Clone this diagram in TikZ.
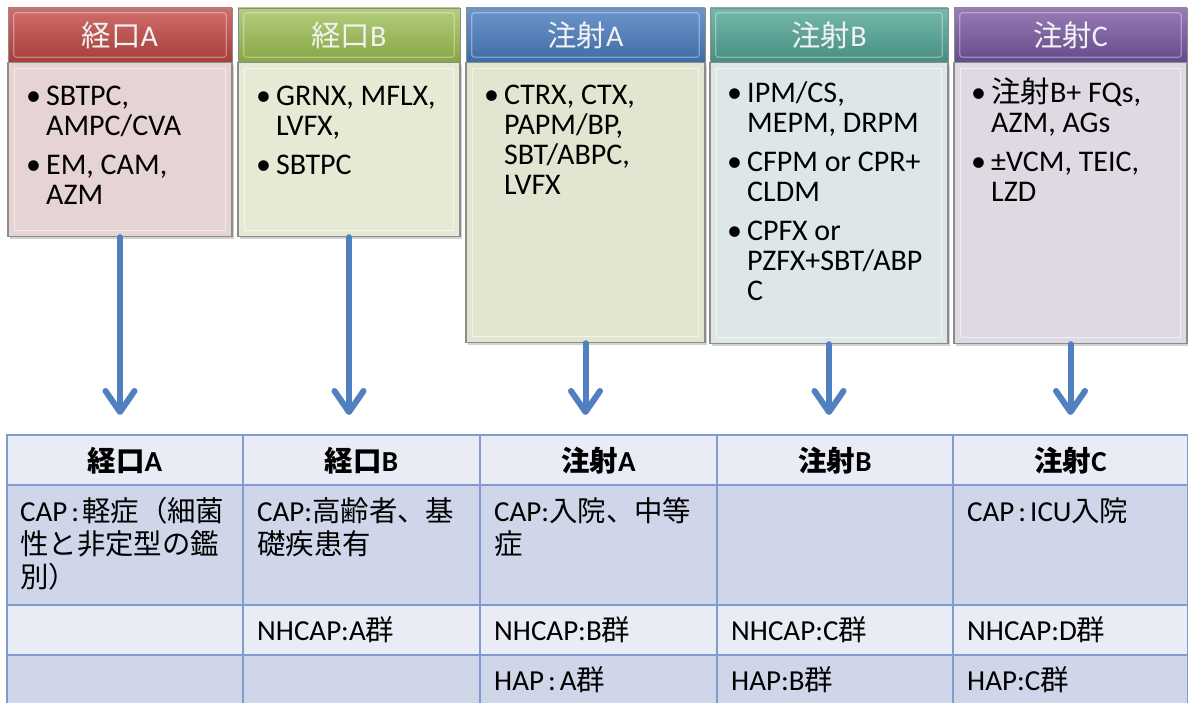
\documentclass[tikz,border=0pt]{standalone}
\usepackage{fontspec}
\setmainfont{Carlito}
\newfontfamily\jpf{Noto Sans CJK JP}[Scale=0.98]
\newcommand\jp[1]{{\jpf #1}}
\usetikzlibrary{arrows.meta,shadows}
\definecolor{redtop}{HTML}{D06E6B}
\definecolor{redbot}{HTML}{A63D3A}
\definecolor{greentop}{HTML}{B4CE7C}
\definecolor{greenbot}{HTML}{87A545}
\definecolor{bluetop}{HTML}{6C96CB}
\definecolor{bluebot}{HTML}{3F6BA6}
\definecolor{tealtop}{HTML}{74B9AC}
\definecolor{tealbot}{HTML}{478D81}
\definecolor{purptop}{HTML}{977CB7}
\definecolor{purpbot}{HTML}{654A8A}
\definecolor{bodyA}{HTML}{E6D3D3}
\definecolor{bodyB}{HTML}{E4EAD4}
\definecolor{bodyC}{HTML}{E1E6D0}
\definecolor{bodyD}{HTML}{DDE7E7}
\definecolor{bodyE}{HTML}{DFD9E3}
\definecolor{thfill}{HTML}{E9EBF5}
\definecolor{tddark}{HTML}{CFD6EA}
\definecolor{gridblue}{HTML}{7F9BCF}
\definecolor{arrowblue}{HTML}{5080C0}
\newcommand\itm[1]{\par\hangindent=20pt\hangafter=1\noindent\makebox[20pt][l]{•}#1}
\newcommand\itmgap{\par\vskip 9pt}
\begin{document}
\begin{tikzpicture}[x=1pt,y=-1pt,
  hdr/.style={rectangle, minimum width=#1, minimum height=54pt, inner sep=0,
    text=white!95!black, font=\fontsize{30}{30}\selectfont, draw=black!45, line width=0.6pt},
  bodybox/.style={rectangle, inner sep=0, draw=black!45, line width=1.2pt,
    drop shadow={shadow xshift=2pt, shadow yshift=-2pt, opacity=0.35}},
  bevel/.style={draw=white, opacity=0.6, line width=1pt},
  hbevel/.style={draw=white, opacity=0.35, line width=1.2pt, rounded corners=3pt},
  btext/.style={anchor=base west, inner sep=0, font=\fontsize{30}{30}\selectfont},
  arr/.style={draw=arrowblue, line width=6pt, line cap=round,
    -{Straight Barb[round, length=21pt, width=29pt]}},
  th/.style={anchor=base, inner sep=0, font=\fontsize{29}{30}\selectfont\bfseries},
  td/.style={anchor=base west, inner sep=0, font=\fontsize{29}{33}\selectfont},
  grid/.style={draw=gridblue, line width=1.2pt}
]
\useasboundingbox (0,0) rectangle (1188,703);
\fill[white] (0,0) rectangle (1188,703);

% ---------- bodies ----------
\node[bodybox, fill=bodyA, minimum width=224pt, minimum height=174pt, anchor=north] (bA) at (120,62) {};
\node[bodybox, fill=bodyB, minimum width=222pt, minimum height=174pt, anchor=north] (bB) at (349,62) {};
\node[bodybox, fill=bodyC, minimum width=239pt, minimum height=280pt, anchor=north] (bC) at (585.5,62) {};
\node[bodybox, fill=bodyD, minimum width=238pt, minimum height=281pt, anchor=north] (bD) at (829,62) {};
\node[bodybox, fill=bodyE, minimum width=233pt, minimum height=281pt, anchor=north] (bE) at (1070.5,62) {};
\foreach \b in {bA,bB,bC,bD,bE}{
  \draw[bevel] ([shift={(7pt,-7pt)}]\b.north west) rectangle ([shift={(-7pt,7pt)}]\b.south east);
}

% ---------- headers ----------
\node[hdr=224pt, top color=redtop, bottom color=redbot] (hA) at (120,35) {\jp{経口}A};
\node[hdr=222pt, top color=greentop, bottom color=greenbot] (hB) at (349,35) {\jp{経口}B};
\node[hdr=239pt, top color=bluetop, bottom color=bluebot] (hC) at (585.5,35) {\jp{注射}A};
\node[hdr=238pt, top color=tealtop, bottom color=tealbot] (hD) at (829,35) {\jp{注射}B};
\node[hdr=233pt, top color=purptop, bottom color=purpbot] (hE) at (1070.5,35) {\jp{注射}C};
\foreach \h in {hA,hB,hC,hD,hE}{
  \draw[hbevel] ([shift={(6pt,-5pt)}]\h.north west) rectangle ([shift={(-6pt,5pt)}]\h.south east);
}

% ---------- body texts ----------
\node[btext] (xA) at (26,106) {\parbox[t]{200pt}{\itm{SBTPC,\\AMPC/CVA}\itmgap\itm{EM, CAM,\\AZM}}};
\node[btext] (xB) at (256,106) {\parbox[t]{200pt}{\itm{GRNX, MFLX,\\LVFX,}\itmgap\itm{SBTPC}}};
\node[btext] (xC) at (484,105) {\parbox[t]{215pt}{\itm{CTRX, CTX,\\PAPM/BP,\\SBT/ABPC,\\LVFX}}};
\node[btext] (xD) at (727,103) {\parbox[t]{215pt}{\itm{IPM/CS,\\MEPM, DRPM}\itmgap\itm{CFPM or CPR+\\CLDM}\itmgap\itm{CPFX or\\PZFX+SBT/ABP\\C}}};
\node[btext] (xE) at (971,103) {\parbox[t]{210pt}{\itm{\jp{注射}B+ FQs,\\AZM, AGs}\itmgap\itm{±VCM, TEIC,\\LZD}}};

% ---------- arrows ----------
\coordinate (tipY) at (0,415);
\foreach \b in {bA,bB,bC,bD,bE}{
  \draw[arr] (\b.south) -- (\b.south |- tipY);
}

% ---------- table ----------
\fill[thfill] (7,435) rectangle (1188,485);
\fill[tddark] (7,485) rectangle (1188,605);
\fill[thfill] (7,605) rectangle (1188,655);
\fill[tddark] (7,655) rectangle (1188,710);
\draw[grid] (7,435) rectangle (1188,710);
\foreach \yy in {485,605,655}{ \draw[grid] (7,\yy) -- (1188,\yy); }
\foreach \xx in {243,480,717,953}{ \draw[grid] (\xx,435) -- (\xx,710); }

\node[th] (cA) at (125,471) {\jp{経口}A};
\node[th] (cB) at (361.5,471) {\jp{経口}B};
\node[th] (cC) at (598.5,471) {\jp{注射}A};
\node[th] (cD) at (835,471) {\jp{注射}B};
\node[th] (cE) at (1070.5,471) {\jp{注射}C};

\node[td] (r2A) at (20,521) {\parbox[t]{225pt}{CAP\hspace{4pt}:\hspace{3pt}\jp{軽症（細菌}\\\jp{性と非定型の鑑}\\\jp{別）}}};
\node[td] (r2B) at (257,521) {\parbox[t]{225pt}{CAP:\jp{高齢者、基}\\\jp{礎疾患有}}};
\node[td] (r2C) at (494,521) {\parbox[t]{225pt}{CAP:\jp{入院、中等}\\\jp{症}}};
\node[td] (r2E) at (967,521) {CAP\hspace{4pt}:\hspace{4pt}ICU\jp{入院}};

\node[td] (r3B) at (257,640) {NHCAP:A\jp{群}};
\node[td] (r3C) at (494,640) {NHCAP:B\jp{群}};
\node[td] (r3D) at (731,640) {NHCAP:C\jp{群}};
\node[td] (r3E) at (967,640) {NHCAP:D\jp{群}};

\node[td] (r4C) at (494,690) {HAP\hspace{4pt}:\hspace{4pt}A\jp{群}};
\node[td] (r4D) at (731,690) {HAP:B\jp{群}};
\node[td] (r4E) at (967,690) {HAP:C\jp{群}};
\end{tikzpicture}
\end{document}
